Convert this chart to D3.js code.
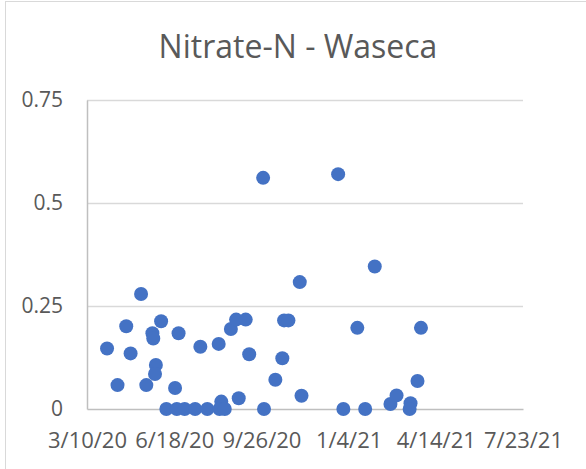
<!DOCTYPE html>
<html>
<head>
<meta charset="utf-8">
<script src="https://cdn.jsdelivr.net/npm/d3@7"></script>
<style>
  body { margin: 0; background: #fff; }
  text { font-family: "Open Sans", Lato, sans-serif; fill: #595959; }
</style>
</head>
<body>
<div id="chart"></div>
<script>
/*------------------------------
 DATA
 ----------------------------*/
const TITLE = "Nitrate-N - Waseca";
const sampleDates = ["2020-04-02","2020-04-14","2020-04-24","2020-04-29","2020-05-11","2020-05-17",
    "2020-05-24","2020-05-25","2020-05-28","2020-05-27","2020-06-03","2020-06-09","2020-06-19",
    "2020-06-23","2020-06-21","2020-06-30","2020-07-12","2020-07-18","2020-07-26","2020-08-08",
    "2020-08-11","2020-08-09","2020-08-15","2020-08-22","2020-08-28","2020-08-31","2020-09-08",
    "2020-09-12","2020-09-28","2020-09-29","2020-10-12","2020-10-20","2020-10-22","2020-10-27",
    "2020-11-09","2020-11-11","2020-12-23","2020-12-29","2021-01-14","2021-01-23","2021-02-03",
    "2021-02-21","2021-02-28","2021-03-16","2021-03-15","2021-03-24","2021-03-28"];
const nitrateValues = [0.147,0.058,0.201,0.135,0.279,0.058,
    0.184,0.171,0.107,0.085,0.213,0,0.051,
    0.184,0,0,0,0.151,0,0.158,
    0.018,0,0,0.194,0.217,0.026,0.217,
    0.133,0.561,0,0.071,0.123,0.215,0.215,
    0.308,0.032,0.570,0,0.197,0,0.346,
    0.012,0.033,0.014,0,0.068,0.197];
const xTickDates = ["2020-03-10","2020-06-18","2020-09-26","2021-01-04","2021-04-14","2021-07-23"];
const yTicks = [0, 0.25, 0.5, 0.75];

/*------------------------------
 LAYOUT
 ----------------------------*/
const SVG_WIDTH = 586;
const SVG_HEIGHT = 469;
const MARGIN = {top:100, right:63, bottom:60, left:87};
const WIDTH = SVG_WIDTH - MARGIN.left - MARGIN.right;
const HEIGHT = SVG_HEIGHT - MARGIN.top - MARGIN.bottom;

const parseDate = d3.utcParse("%Y-%m-%d");
const fmtDate = d3.utcFormat("%-m/%-d/%y");

const points = sampleDates.map((d, i) => ({date: parseDate(d), value: nitrateValues[i]}));
const xTicks = xTickDates.map(parseDate);

const svg = d3.select("#chart").append("svg")
    .attr("width", SVG_WIDTH).attr("height", SVG_HEIGHT);

// chart area border
svg.append("rect")
    .attr("x", 5.5).attr("y", 1.5)
    .attr("width", 600).attr("height", 500)
    .attr("fill", "#fff").attr("stroke", "#d9d9d9");

svg.append("text")
    .attr("x", 298).attr("y", 58)
    .attr("text-anchor", "middle")
    .style("font-size", "32px")
    .text(TITLE);

const chartGroup = svg.append("g").attr("transform", `translate(${MARGIN.left}, ${MARGIN.top})`);

const xScale = d3.scaleUtc().domain(d3.extent(xTicks)).range([0, WIDTH]);
const yScale = d3.scaleLinear().domain([0, 0.75]).range([HEIGHT, 0]);

// gridlines
chartGroup.append("g")
    .selectAll("line").data(yTicks.filter(t => t > 0)).enter()
    .append("line")
    .attr("x1", 0).attr("x2", WIDTH)
    .attr("y1", d => Math.round(yScale(d)) + 0.5).attr("y2", d => Math.round(yScale(d)) + 0.5)
    .attr("stroke", "#d9d9d9").attr("stroke-width", 1.5);

// y axis
const leftAxis = d3.axisLeft(yScale).tickValues(yTicks).tickSize(0).tickPadding(24)
    .tickFormat(d => d === 0 ? "0" : String(d));
const yAxis = chartGroup.append("g").call(leftAxis);
yAxis.select(".domain").attr("stroke", "#bfbfbf").attr("stroke-width", 1.5);
yAxis.selectAll("text").style("font-size", "21px").attr("fill", "#595959");

// x axis
const bottomAxis = d3.axisBottom(xScale).tickValues(xTicks).tickSize(0).tickPadding(23)
    .tickFormat(fmtDate);
const xAxis = chartGroup.append("g").attr("transform", `translate(0, ${HEIGHT})`).call(bottomAxis);
xAxis.select(".domain").attr("stroke", "#bfbfbf").attr("stroke-width", 1.5);
xAxis.selectAll("text").style("font-size", "22px").attr("fill", "#595959");

// points
chartGroup.selectAll("circle.pt")
    .data(points).enter()
    .append("circle")
    .attr("class", "pt")
    .attr("cx", d => xScale(d.date))
    .attr("cy", d => yScale(d.value))
    .attr("r", 7)
    .attr("fill", "#4472c4");
</script>
</body>
</html>
